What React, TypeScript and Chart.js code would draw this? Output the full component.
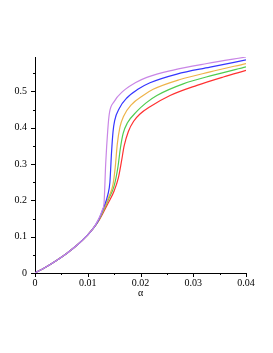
import React, { useEffect, useRef } from "react";
import { Chart, registerables } from "chart.js";

Chart.register(...registerables);

const common: number[][] = [
  [0, 0], [0.002, 0.016], [0.004, 0.034], [0.006, 0.054], [0.008, 0.077], [0.01, 0.105], [0.011, 0.122],
];

const purple: number[][] = [
  ...common,
  [0.012, 0.147], [0.0128, 0.175], [0.0131, 0.195], [0.0134, 0.3], [0.0138, 0.395], [0.0141, 0.44],
  [0.015, 0.472], [0.0167, 0.501], [0.019, 0.524], [0.0212, 0.539], [0.0262, 0.559], [0.0326, 0.577], [0.04, 0.595],
];
const blue: number[][] = [
  ...common,
  [0.012, 0.145], [0.013, 0.18], [0.0138, 0.215], [0.0142, 0.25], [0.0145, 0.33], [0.0148, 0.39], [0.0151, 0.42],
  [0.016, 0.454], [0.0174, 0.482], [0.0195, 0.506], [0.0218, 0.524], [0.0269, 0.548], [0.0332, 0.567], [0.04, 0.587],
];
const orange: number[][] = [
  ...common,
  [0.012, 0.144], [0.013, 0.175], [0.014, 0.21], [0.0148, 0.245], [0.0152, 0.29], [0.0156, 0.355], [0.0161, 0.402],
  [0.0168, 0.432], [0.0183, 0.464], [0.0205, 0.489], [0.0224, 0.506], [0.0275, 0.533], [0.0332, 0.554], [0.04, 0.577],
];
const green: number[][] = [
  ...common,
  [0.012, 0.143], [0.013, 0.172], [0.014, 0.205], [0.015, 0.24], [0.0157, 0.29], [0.0162, 0.345], [0.0167, 0.384],
  [0.0175, 0.413], [0.0193, 0.445], [0.021, 0.468], [0.0231, 0.489], [0.0281, 0.521], [0.0338, 0.545], [0.04, 0.568],
];
const red: number[][] = [
  ...common,
  [0.012, 0.142], [0.013, 0.168], [0.014, 0.196], [0.015, 0.226], [0.0158, 0.262], [0.0164, 0.308], [0.0169, 0.35],
  [0.0177, 0.39], [0.0187, 0.418], [0.0199, 0.438], [0.0218, 0.458], [0.0256, 0.489], [0.0307, 0.517], [0.0357, 0.54],
  [0.04, 0.558],
];

const xTicks = [0, 0.01, 0.02, 0.03, 0.04];
const xMinor = [0.005, 0.015, 0.025, 0.035];
const yTicks = [0, 0.1, 0.2, 0.3, 0.4, 0.5];
const yMinor = [0.05, 0.15, 0.25, 0.35, 0.45, 0.55];
const xLabel = "α";

const font = { family: "'Liberation Serif', serif", size: 10 };

const tickPlugin = {
  id: "maplesticks",
  afterDraw(chart: any) {
    const ctx = chart.ctx;
    const xs = chart.scales.x;
    const ys = chart.scales.y;
    const area = chart.chartArea;
    ctx.save();
    ctx.strokeStyle = "#000";
    ctx.lineWidth = 1;
    ctx.beginPath();
    const draw = (vals: number[], len: number) => {
      vals.forEach((v) => {
        const px = Math.round(xs.getPixelForValue(v)) + 0.5;
        ctx.moveTo(px, area.bottom);
        ctx.lineTo(px, area.bottom + len);
      });
    };
    draw(xTicks, 4);
    draw(xMinor, 2);
    const drawY = (vals: number[], len: number) => {
      vals.forEach((v) => {
        const py = Math.round(ys.getPixelForValue(v)) + 0.5;
        ctx.moveTo(area.left, py);
        ctx.lineTo(area.left - len, py);
      });
    };
    drawY(yTicks, 4);
    drawY(yMinor, 2);
    ctx.stroke();
    ctx.restore();
  },
};

export default function App() {
  const ref = useRef<HTMLCanvasElement>(null);
  useEffect(() => {
    if (!ref.current) return;
    const mk = (label: string, d: number[][], color: string) => ({
      label,
      data: d.map(([x, y]) => ({ x, y })),
      borderColor: color,
      borderWidth: 1.2,
      pointRadius: 0,
      fill: false,
      cubicInterpolationMode: "monotone" as const,
    });
    const chart = new Chart(ref.current, {
      type: "line",
      data: {
        datasets: [
          mk("purple", purple, "#c986e6"),
          mk("blue", blue, "#3535ff"),
          mk("orange", orange, "#eeb34a"),
          mk("green", green, "#4fcc4f"),
          mk("red", red, "#ff3030"),
        ],
      },
      plugins: [tickPlugin],
      options: {
        animation: false,
        responsive: true,
        maintainAspectRatio: false,
        layout: { padding: { top: 57, right: 27, bottom: 50, left: 0 } },
        plugins: { legend: { display: false }, tooltip: { enabled: false } },
        scales: {
          x: {
            type: "linear",
            min: 0,
            max: 0.04,
            grid: { display: false, drawTicks: false },
            border: { display: true, color: "#000", width: 1 },
            afterBuildTicks: (s: any) => {
              s.ticks = xTicks.map((v) => ({ value: v }));
            },
            afterFit: (s: any) => {
              s.height = 30;
            },
            ticks: {
              color: "#000",
              font,
              padding: 4,
              maxRotation: 0,
              callback: (v: any) => String(v),
            },
            title: { display: true, text: xLabel, color: "#000", font, padding: { top: 2, bottom: 4 } },
          },
          y: {
            type: "linear",
            min: 0,
            max: 0.595,
            grid: { display: false, drawTicks: false },
            border: { display: true, color: "#000", width: 1 },
            afterBuildTicks: (s: any) => {
              s.ticks = yTicks.map((v) => ({ value: v }));
            },
            afterFit: (s: any) => {
              s.width = 35;
            },
            ticks: {
              color: "#000",
              font,
              padding: 8,
              callback: (v: any) => String(Math.round(v * 10) / 10),
            },
          },
        },
      },
    });
    return () => chart.destroy();
  }, []);
  return (
    <div style={{ position: "absolute", left: 0, top: 0, width: 273, height: 353, background: "#fff" }}>
      <canvas ref={ref} />
    </div>
  );
}
